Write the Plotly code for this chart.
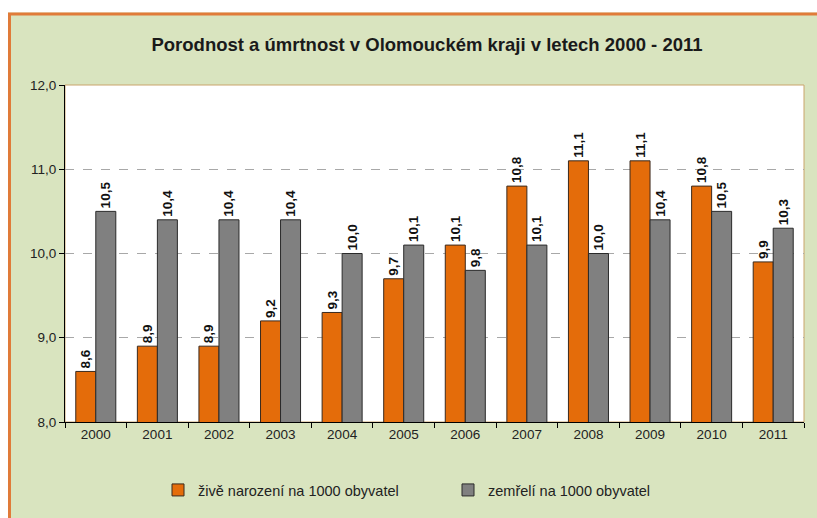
import plotly.graph_objects as go

years = ["2000", "2001", "2002", "2003", "2004", "2005", "2006", "2007", "2008", "2009", "2010", "2011"]
births = [8.6, 8.9, 8.9, 9.2, 9.3, 9.7, 10.1, 10.8, 11.1, 11.1, 10.8, 9.9]
deaths = [10.5, 10.4, 10.4, 10.4, 10.0, 10.1, 9.8, 10.1, 10.0, 10.4, 10.5, 10.3]
name_births = "živě narození na 1000 obyvatel"
name_deaths = "zemřelí na 1000 obyvatel"
title = "Porodnost a úmrtnost v Olomouckém kraji v letech 2000 - 2011"

def fmt(v):
    return f"{v:.1f}".replace(".", ",")

W, H = 817, 518
L, R, T, B = 65, 13, 85, 96
pw, ph = W - L - R, H - T - B

def px(x):
    return (x - L) / pw

def py(y):
    return (H - B - y) / ph

XR = (W - L) / pw      # right edge of the figure in paper units
YB = -B / ph           # bottom edge of the figure in paper units

FONT = "Liberation Sans, Arial"
fig = go.Figure()
for vals, name, col, lc in [(births, name_births, "#E46C0A", "#3A2A1E"),
                            (deaths, name_deaths, "#808080", "#2A2A2A")]:
    fig.add_trace(go.Bar(
        x=years, y=vals, name=name,
        marker=dict(color=col, line=dict(color=lc, width=1)),
        text=[fmt(v) for v in vals], textposition="outside", textangle=-90,
        constraintext="none",
        textfont=dict(family=FONT, size=13.5, color="#111111", weight="bold"),
        cliponaxis=False,
    ))

fig.update_layout(
    width=W, height=H,
    margin=dict(l=L, r=R, t=T, b=B, pad=0, autoexpand=False),
    paper_bgcolor="#D9E4BF",
    plot_bgcolor="rgba(0,0,0,0)",
    separators=", ",
    barmode="group",
    bargap=0.35,
    bargroupgap=0.0,
    font=dict(family=FONT, size=13.5, color="#222222"),
    title=dict(text=f"<b>{title}</b>", x=px(427), xref="paper", xanchor="center",
               y=1 - 45 / H, yanchor="middle",
               font=dict(family=FONT, size=18.5, color="#1A1A1A")),
    legend=dict(orientation="h", x=px(158), xanchor="left", y=py(490), yanchor="middle",
                bgcolor="rgba(0,0,0,0)", entrywidth=245, entrywidthmode="pixels",
                itemwidth=30,
                font=dict(family=FONT, size=14.5, color="#222222"), traceorder="normal"),
    shapes=[
        # white strip above and left of the chart border
        dict(type="rect", xref="paper", yref="paper", layer="below",
             x0=px(0), x1=XR, y0=py(12.5), y1=py(0),
             fillcolor="#FFFFFF", line=dict(width=0)),
        dict(type="rect", xref="paper", yref="paper", layer="below",
             x0=px(0), x1=px(8), y0=YB, y1=py(0),
             fillcolor="#FFFFFF", line=dict(width=0)),
        dict(type="line", xref="paper", yref="paper", layer="below",
             x0=px(8), x1=XR, y0=py(14), y1=py(14),
             line=dict(color="#E07B39", width=3)),
        dict(type="line", xref="paper", yref="paper", layer="below",
             x0=px(9.5), x1=px(9.5), y0=py(13), y1=YB,
             line=dict(color="#E07B39", width=3)),
        dict(type="rect", xref="paper", yref="paper", layer="below",
             x0=0, x1=1, y0=0, y1=1,
             fillcolor="#FFFFFF", line=dict(color="#C9A46A", width=1)),
    ],
)
fig.update_yaxes(range=[8, 12], dtick=1, tickformat=".1f", automargin=False,
                 showgrid=True, gridcolor="#A8A8A8", griddash="dash", gridwidth=1,
                 showline=True, linecolor="#000000", linewidth=1,
                 ticks="outside", ticklen=5, tickcolor="#000000",
                 zeroline=False, tickfont=dict(size=13.5, color="#222222"))
fig.update_xaxes(showline=True, linecolor="#000000", linewidth=1, automargin=False,
                 ticks="outside", ticklen=5, tickcolor="#000000", tickson="boundaries",
                 showgrid=False, tickfont=dict(size=13.5, color="#222222"))

fig.write_html("out.html", config={"displayModeBar": False},
               post_script="document.body.style.margin='0';document.body.style.overflow='hidden';")
